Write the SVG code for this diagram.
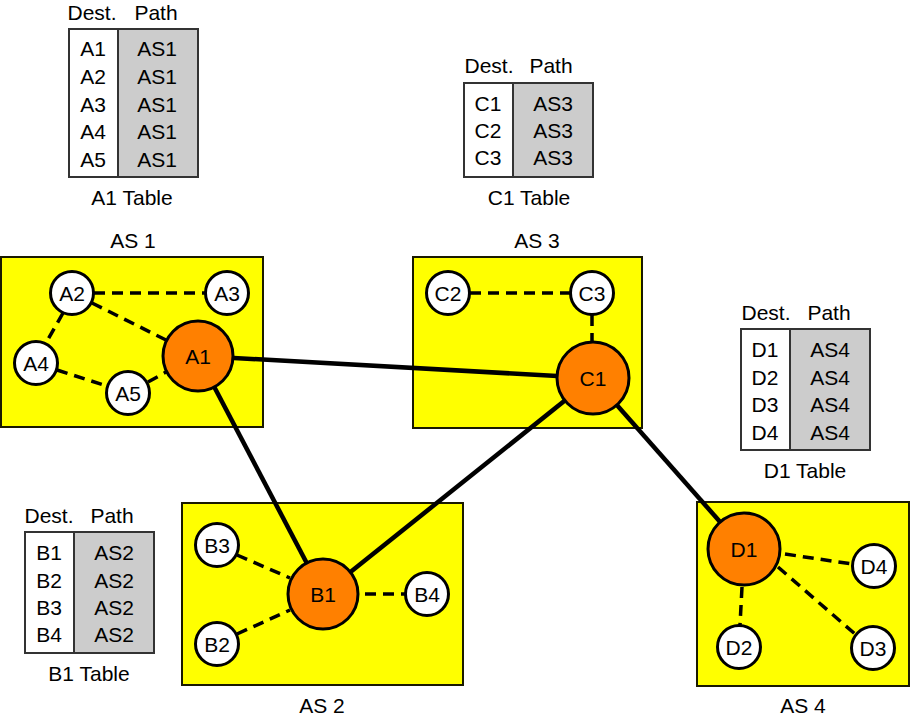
<svg xmlns="http://www.w3.org/2000/svg" width="911" height="720" viewBox="0 0 911 720">
<style>
text{font-family:"Liberation Sans",Arial,sans-serif;font-size:21px;fill:#000;text-anchor:middle}
.as{fill:#FFFF00;stroke:#1a1a00;stroke-width:2}
.big{fill:#FF8000;stroke:#000;stroke-width:3}
.small{fill:#fff;stroke:#000;stroke-width:3}
.solid{stroke:#000;stroke-width:4.5;fill:none}
.dash{stroke:#000;stroke-width:3.5;fill:none;stroke-dasharray:11 7}
.tw{fill:#fff;stroke:#333;stroke-width:2}
.tg{fill:#CCCCCC;stroke:#333;stroke-width:2}
</style>
<rect width="911" height="720" fill="#fff"/>

<g id="table-A1">
<text x="92" y="20">Dest.</text><text x="156" y="20">Path</text>
<rect class="tw" x="69" y="29" width="49" height="148"/>
<rect class="tg" x="118" y="29" width="80" height="148"/>
<text x="93" y="55.5">A1</text><text x="157" y="55.5">AS1</text>
<text x="93" y="83.5">A2</text><text x="157" y="83.5">AS1</text>
<text x="93" y="111.5">A3</text><text x="157" y="111.5">AS1</text>
<text x="93" y="138.5">A4</text><text x="157" y="138.5">AS1</text>
<text x="93" y="166.5">A5</text><text x="157" y="166.5">AS1</text>
<text x="132" y="204.5">A1 Table</text>
</g>

<g id="table-C1">
<text x="489" y="73">Dest.</text><text x="551" y="73">Path</text>
<rect class="tw" x="464" y="83" width="49" height="94"/>
<rect class="tg" x="513" y="83" width="80" height="94"/>
<text x="488" y="110.5">C1</text><text x="553" y="110.5">AS3</text>
<text x="488" y="137.5">C2</text><text x="553" y="137.5">AS3</text>
<text x="488" y="164.5">C3</text><text x="553" y="164.5">AS3</text>
<text x="529" y="204.5">C1 Table</text>
</g>

<g id="table-D1">
<text x="766" y="320">Dest.</text><text x="829" y="320">Path</text>
<rect class="tw" x="741" y="329" width="49" height="121"/>
<rect class="tg" x="790" y="329" width="80" height="121"/>
<text x="765" y="356.5">D1</text><text x="830" y="356.5">AS4</text>
<text x="765" y="384.5">D2</text><text x="830" y="384.5">AS4</text>
<text x="765" y="411.5">D3</text><text x="830" y="411.5">AS4</text>
<text x="765" y="439.5">D4</text><text x="830" y="439.5">AS4</text>
<text x="805" y="477.5">D1 Table</text>
</g>

<g id="table-B1">
<text x="49" y="523">Dest.</text><text x="112" y="523">Path</text>
<rect class="tw" x="25" y="532" width="49" height="121"/>
<rect class="tg" x="74" y="532" width="80" height="121"/>
<text x="49" y="559.5">B1</text><text x="114" y="559.5">AS2</text>
<text x="49" y="587.5">B2</text><text x="114" y="587.5">AS2</text>
<text x="49" y="614.5">B3</text><text x="114" y="614.5">AS2</text>
<text x="49" y="641.5">B4</text><text x="114" y="641.5">AS2</text>
<text x="89" y="680.5">B1 Table</text>
</g>

<g id="AS1"><rect class="as" x="1" y="257" width="262" height="170"/><text x="133" y="247.5">AS 1</text></g>
<g id="AS3"><rect class="as" x="413" y="257" width="229" height="171"/><text x="537" y="247.5">AS 3</text></g>
<g id="AS2"><rect class="as" x="182" y="503" width="281" height="182"/><text x="322" y="712.5">AS 2</text></g>
<g id="AS4"><rect class="as" x="697" y="502" width="212" height="184"/><text x="803" y="712.5">AS 4</text></g>

<g id="connectors">
<line class="solid" x1="198" y1="356" x2="593" y2="378"/>
<line class="solid" x1="198" y1="356" x2="323" y2="594"/>
<line class="solid" x1="593" y1="378" x2="323" y2="594"/>
<line class="solid" x1="593" y1="378" x2="744" y2="549"/>
<line class="dash" x1="94" y1="293" x2="205" y2="293"/>
<line class="dash" x1="92" y1="303" x2="166" y2="340"/>
<line class="dash" x1="63" y1="313" x2="46" y2="343"/>
<line class="dash" x1="57" y1="370" x2="107" y2="386"/>
<line class="dash" x1="148" y1="382" x2="168" y2="371"/>
<line class="dash" x1="470" y1="293" x2="570" y2="293"/>
<line class="dash" x1="592" y1="315" x2="592" y2="342"/>
<line class="dash" x1="237" y1="555" x2="290" y2="578"/>
<line class="dash" x1="237" y1="634" x2="290" y2="610"/>
<line class="dash" x1="365" y1="594" x2="405" y2="594"/>
<line class="dash" x1="785" y1="554" x2="852" y2="564"/>
<line class="dash" x1="778" y1="567" x2="855" y2="634"/>
<line class="dash" x1="742" y1="587" x2="740" y2="625"/>
</g>

<g id="A1"><circle class="big" cx="198" cy="356" r="35"/><text x="198" y="363.5">A1</text></g>
<g id="A2"><circle class="small" cx="72" cy="293" r="21.5"/><text x="72" y="300.5">A2</text></g>
<g id="A3"><circle class="small" cx="227" cy="293" r="21.5"/><text x="227" y="300.5">A3</text></g>
<g id="A4"><circle class="small" cx="36" cy="363" r="21.5"/><text x="36" y="370.5">A4</text></g>
<g id="A5"><circle class="small" cx="128" cy="393" r="21.5"/><text x="128" y="400.5">A5</text></g>

<g id="C1"><circle class="big" cx="593" cy="378" r="36"/><text x="593" y="385.5">C1</text></g>
<g id="C2"><circle class="small" cx="448" cy="293" r="21.5"/><text x="448" y="300.5">C2</text></g>
<g id="C3"><circle class="small" cx="592" cy="293" r="21.5"/><text x="592" y="300.5">C3</text></g>

<g id="B1"><circle class="big" cx="323" cy="594" r="35"/><text x="323" y="601.5">B1</text></g>
<g id="B2"><circle class="small" cx="217" cy="644" r="21.5"/><text x="217" y="651.5">B2</text></g>
<g id="B3"><circle class="small" cx="217" cy="545" r="21.5"/><text x="217" y="552.5">B3</text></g>
<g id="B4"><circle class="small" cx="427" cy="594" r="21.5"/><text x="427" y="601.5">B4</text></g>

<g id="D1"><circle class="big" cx="744" cy="549" r="36"/><text x="744" y="556.5">D1</text></g>
<g id="D2"><circle class="small" cx="739" cy="647" r="21.5"/><text x="739" y="654.5">D2</text></g>
<g id="D3"><circle class="small" cx="873" cy="648" r="21.5"/><text x="873" y="655.5">D3</text></g>
<g id="D4"><circle class="small" cx="874" cy="566" r="21.5"/><text x="874" y="573.5">D4</text></g>
</svg>
